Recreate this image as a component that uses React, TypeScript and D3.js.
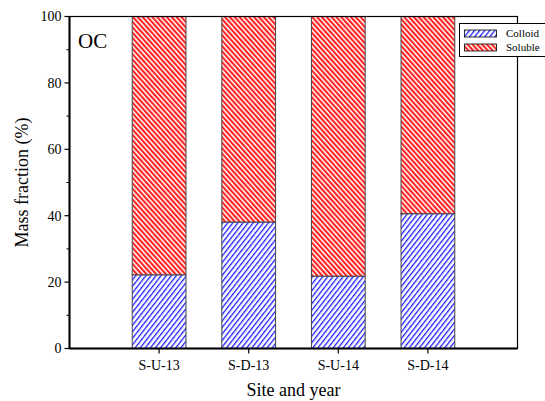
import React, { useEffect, useRef } from 'react';
import * as d3 from 'd3';

const categories = ['S-U-13', 'S-D-13', 'S-U-14', 'S-D-14'];
const colloid = [22.2, 38.1, 21.8, 40.6];
const yTicks = [0, 20, 40, 60, 80, 100];
const yMinor = [10, 30, 50, 70, 90];

const App = () => {
  const ref = useRef<SVGSVGElement | null>(null);

  useEffect(() => {
    const svg = d3.select(ref.current);
    svg.selectAll('*').remove();
    const W = 545, H = 401;
    const left = 69.5, right = 517.5, top = 16.5, bottom = 348.5;
    const font = '"Liberation Serif", "Times New Roman", serif';

    const defs = svg.append('defs');
    const pBlue = defs.append('pattern').attr('id', 'hBlue').attr('patternUnits', 'userSpaceOnUse')
      .attr('width', 4).attr('height', 4).attr('patternTransform', 'rotate(38)');
    pBlue.append('rect').attr('width', 4).attr('height', 4).attr('fill', '#fff');
    pBlue.append('line').attr('x1', 0).attr('y1', 0).attr('x2', 0).attr('y2', 4)
      .attr('stroke', '#1a1aff').attr('stroke-width', 2.6);
    const pRed = defs.append('pattern').attr('id', 'hRed').attr('patternUnits', 'userSpaceOnUse')
      .attr('width', 3.6).attr('height', 3.6).attr('patternTransform', 'rotate(-42)');
    pRed.append('rect').attr('width', 3.6).attr('height', 3.6).attr('fill', '#fff');
    pRed.append('line').attr('x1', 0).attr('y1', 0).attr('x2', 0).attr('y2', 3.6)
      .attr('stroke', '#ff2020').attr('stroke-width', 4.2);

    const x = d3.scaleLinear().domain([0, 5]).range([left, right]);
    const y = d3.scaleLinear().domain([0, 100]).range([bottom, top]);
    const bw = (x(1) - x(0)) * 0.6;

    const g = svg.append('g');
    categories.forEach((c, i) => {
      const cx = x(i + 1);
      g.append('rect').attr('x', cx - bw / 2).attr('width', bw)
        .attr('y', y(colloid[i])).attr('height', y(0) - y(colloid[i]))
        .attr('fill', 'url(#hBlue)').attr('stroke', '#444').attr('stroke-width', 1);
      g.append('rect').attr('x', cx - bw / 2).attr('width', bw)
        .attr('y', y(100)).attr('height', y(colloid[i]) - y(100))
        .attr('fill', 'url(#hRed)').attr('stroke', '#444').attr('stroke-width', 1);
    });

    // frame
    svg.append('rect').attr('x', left).attr('y', top).attr('width', right - left).attr('height', bottom - top)
      .attr('fill', 'none').attr('stroke', '#000').attr('stroke-width', 1.2);
    svg.append('line').attr('x1', left).attr('x2', right).attr('y1', bottom).attr('y2', bottom)
      .attr('stroke', '#000').attr('stroke-width', 2);
    svg.append('line').attr('x1', left).attr('x2', left).attr('y1', top).attr('y2', bottom)
      .attr('stroke', '#000').attr('stroke-width', 2);

    // y axis ticks
    yTicks.forEach((t) => {
      svg.append('line').attr('x1', left - 5).attr('x2', left).attr('y1', y(t)).attr('y2', y(t))
        .attr('stroke', '#000').attr('stroke-width', 1.2);
      svg.append('text').attr('x', left - 8).attr('y', y(t)).attr('dy', '0.35em')
        .attr('text-anchor', 'end').attr('font-family', font).attr('font-size', 14).text(t);
    });
    yMinor.forEach((t) => {
      svg.append('line').attr('x1', left - 3).attr('x2', left).attr('y1', y(t)).attr('y2', y(t))
        .attr('stroke', '#000').attr('stroke-width', 1);
    });
    categories.forEach((c, i) => {
      svg.append('line').attr('x1', x(i + 1)).attr('x2', x(i + 1)).attr('y1', bottom).attr('y2', bottom + 5)
        .attr('stroke', '#000').attr('stroke-width', 1.2);
      svg.append('text').attr('x', x(i + 1)).attr('y', bottom + 21)
        .attr('text-anchor', 'middle').attr('font-family', font).attr('font-size', 14).text(c);
    });

    svg.append('text').attr('x', (left + right) / 2).attr('y', 396)
      .attr('text-anchor', 'middle').attr('font-family', font).attr('font-size', 18).text('Site and year');
    svg.append('text').attr('transform', `translate(28,${(top + bottom) / 2}) rotate(-90)`)
      .attr('text-anchor', 'middle').attr('font-family', font).attr('font-size', 18).text('Mass fraction (%)');
    svg.append('text').attr('x', 78).attr('y', 48).attr('font-family', font).attr('font-size', 21).text('OC');

    // legend
    const lg = svg.append('g');
    lg.append('rect').attr('x', 459.5).attr('y', 23.5).attr('width', 110).attr('height', 33)
      .attr('fill', '#fff').attr('stroke', '#000').attr('stroke-width', 1);
    const items = [{ label: 'Colloid', fill: 'url(#hBlue)' }, { label: 'Soluble', fill: 'url(#hRed)' }];
    items.forEach((it, i) => {
      const yy = 30 + i * 14;
      lg.append('rect').attr('x', 464.5).attr('y', yy).attr('width', 32).attr('height', 7)
        .attr('fill', it.fill).attr('stroke', '#000').attr('stroke-width', 0.8);
      lg.append('text').attr('x', 506).attr('y', yy + 3.5).attr('dy', '0.35em')
        .attr('font-family', font).attr('font-size', 11).text(it.label);
    });

    svg.attr('width', W).attr('height', H);
  }, []);

  return (
    <svg ref={ref} width={545} height={401}
      style={{ position: 'fixed', left: 0, top: 0, background: '#fff' }} />
  );
};

export default App;
